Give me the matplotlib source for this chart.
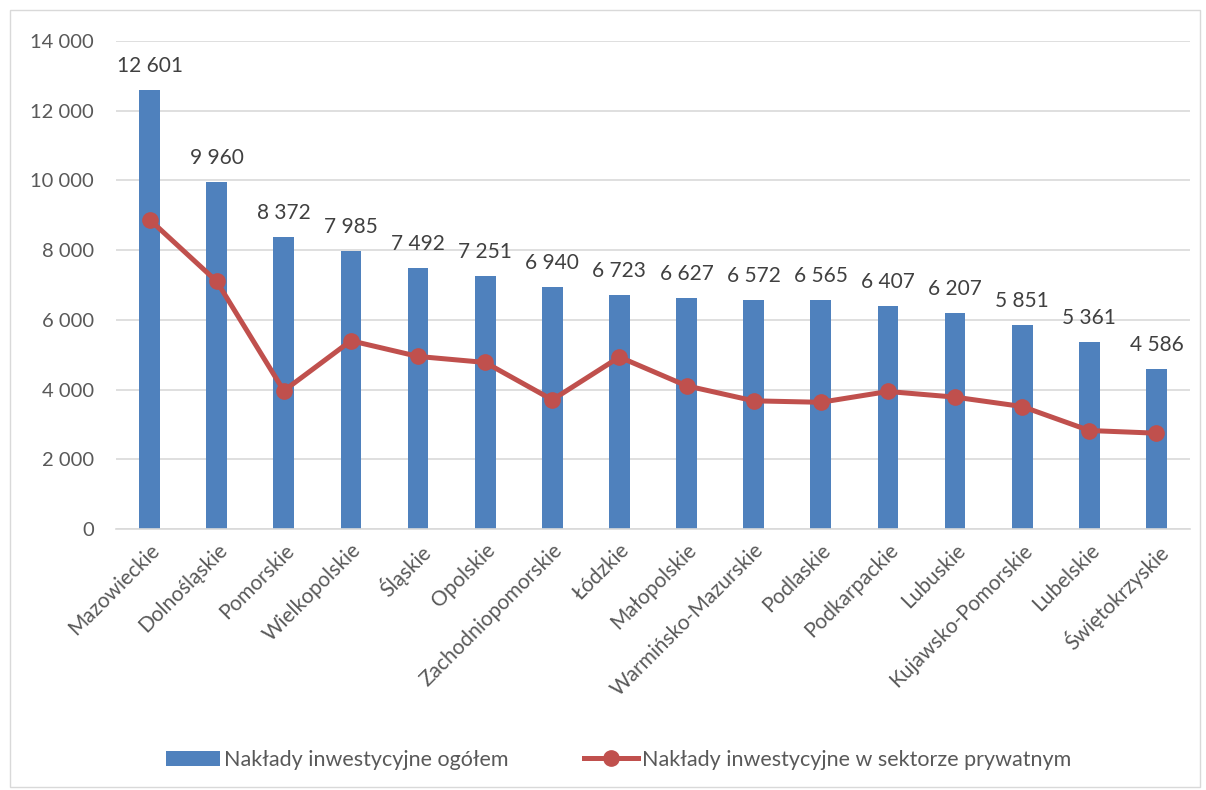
import matplotlib
matplotlib.use('Agg')
import matplotlib.pyplot as plt
import numpy as np
from matplotlib.patches import Rectangle
from matplotlib.ticker import FuncFormatter

plt.rcParams['font.family'] = ['Lato', 'DejaVu Sans']

regions = ['Mazowieckie', 'Dolnośląskie', 'Pomorskie', 'Wielkopolskie', 'Śląskie',
           'Opolskie', 'Zachodniopomorskie', 'Łódzkie', 'Małopolskie',
           'Warmińsko-Mazurskie', 'Podlaskie', 'Podkarpackie', 'Lubuskie',
           'Kujawsko-Pomorskie', 'Lubelskie', 'Świętokrzyskie']
total = [12601, 9960, 8372, 7985, 7492, 7251, 6940, 6723, 6627, 6572, 6565,
         6407, 6207, 5851, 5361, 4586]
private = [8877, 7105, 3965, 5401, 4950, 4778, 3706, 4933, 4108, 3677, 3635,
           3945, 3783, 3514, 2825, 2749]

bar_color = '#4F81BD'
line_color = '#C0504D'
text_color = '#595959'

fig = plt.figure(figsize=(12.06, 7.9), dpi=100)
ax = fig.add_axes([116/1206, 1 - 529/790, (1190 - 116)/1206, (529 - 41)/790])

x = np.arange(len(regions))
bars = ax.bar(x, total, width=0.31, color=bar_color, label='Nakłady inwestycyjne ogółem', zorder=2)
line, = ax.plot(x, private, color=line_color, linewidth=3.6, marker='o', markersize=11,
                label='Nakłady inwestycyjne w sektorze prywatnym', zorder=3)

def fmt(v):
    return f'{int(v):,}'.replace(',', ' ')

for xi, v in zip(x, total):
    ax.annotate(fmt(v), (xi, v), xytext=(0, 10), textcoords='offset points',
                ha='center', va='bottom', fontsize=15, color='#404040')

ax.set_xlim(-0.5, len(regions) - 0.5)
ax.set_ylim(0, 14000)
ax.set_yticks(np.arange(0, 14001, 2000))
ax.yaxis.set_major_formatter(FuncFormatter(lambda v, p: fmt(v)))
ax.grid(axis='y', color='#D9D9D9', linewidth=1.2, zorder=0)
ax.set_axisbelow(True)
for s in ['top', 'right', 'left']:
    ax.spines[s].set_visible(False)
ax.spines['bottom'].set_color('#D9D9D9')
ax.spines['bottom'].set_linewidth(1.2)
ax.tick_params(length=0, labelsize=14.5, colors=text_color)
ax.tick_params(axis='y', pad=16)
ax.set_xticks(x)
ax.set_xticklabels(regions, rotation=45, ha='right', rotation_mode='anchor', fontsize=15)
ax.tick_params(axis='x', pad=8)

fig.legend([bars, line], ['Nakłady inwestycyjne ogółem', 'Nakłady inwestycyjne w sektorze prywatnym'],
           loc='center', bbox_to_anchor=(0.513, 1 - 760/790), ncol=2, frameon=False,
           fontsize=15.5, labelcolor=text_color, handlelength=2.5, handletextpad=0.2,
           columnspacing=3.5)

fig.patches.append(Rectangle((10/1206, 3/790), (1200 - 10)/1206, (780 - 3)/790,
                             transform=fig.transFigure, fill=False,
                             edgecolor='#D9D9D9', linewidth=1))

fig.savefig('out.png', dpi=100)
